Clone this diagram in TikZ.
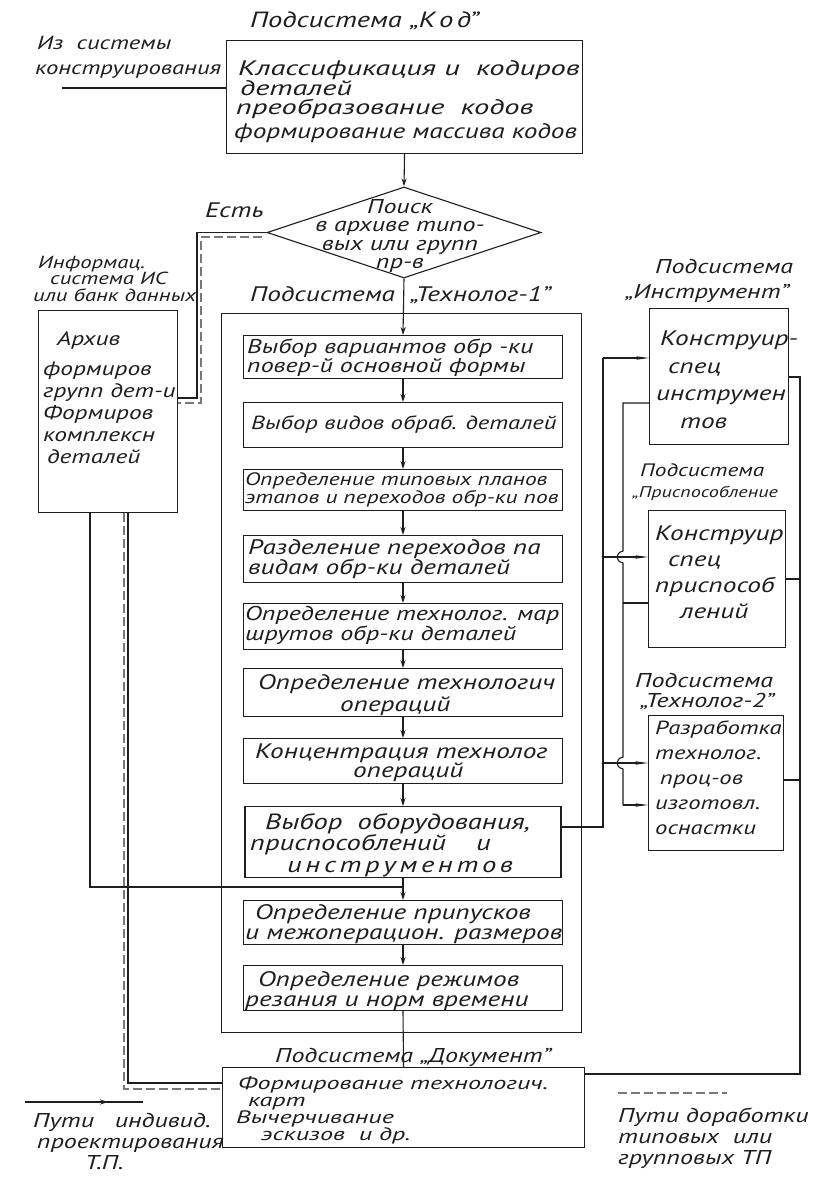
\documentclass[tikz,border=0pt]{standalone}
\usepackage{fontspec}
\newfontfamily\hand{PT Sans}[FakeStretch=1.3]
\newfontfamily\handw{PT Sans}[FakeStretch=1.45]
\usetikzlibrary{shapes.geometric,arrows.meta}
\definecolor{ink}{HTML}{1E1E1E}
\newcommand\hwf[2]{\hand\itshape\fontsize{#1}{#2}\selectfont}
\newcommand\hwfw[2]{\handw\itshape\fontsize{#1}{#2}\selectfont}
\begin{document}
\begin{tikzpicture}[x=1pt,y=-1pt,
  ln/.style={draw=ink,line width=1.1pt},
  dln/.style={draw=ink!60,line width=1.1pt,dash pattern=on 9pt off 4pt},
  arr/.style={ln,-{Stealth[length=8pt,width=5pt]}},
  sarr/.style={ln,-{Stealth[length=13pt,width=3.5pt]}},
  box/.style={draw=ink,line width=1.1pt,inner sep=0pt},
  tx/.style={inner sep=0pt,anchor=north west,align=left,text=ink,font=\hwf{21}{20}},
]
\useasboundingbox (0,0) rectangle (821,1187);
\fill[white] (0,0) rectangle (821,1187);

% ---------- boxes ----------
\node[box,anchor=north west,minimum width=356pt,minimum height=113pt] (kod) at (226,40) {};
\node[box,shape=diamond,minimum width=274pt,minimum height=91pt] (dia) at (404,232.5) {};
\node[box,anchor=north west,minimum width=139pt,minimum height=202pt] (arch) at (38,310) {};
\node[box,anchor=north west,minimum width=360pt,minimum height=719pt] (frame) at (221,313) {};
\node[box,anchor=north,minimum width=319pt,minimum height=43pt] (b1) at (403,335) {};
\node[box,anchor=north,minimum width=319pt,minimum height=45pt] (b2) at (403,402) {};
\node[box,anchor=north,minimum width=319pt,minimum height=41pt] (b3) at (403,469) {};
\node[box,anchor=north,minimum width=319pt,minimum height=47pt] (b4) at (403,535) {};
\node[box,anchor=north,minimum width=319pt,minimum height=46pt] (b5) at (403,603) {};
\node[box,anchor=north,minimum width=319pt,minimum height=48pt] (b6) at (403,668) {};
\node[box,anchor=north,minimum width=319pt,minimum height=45pt] (b7) at (403,738) {};
\node[box,anchor=north,minimum width=316pt,minimum height=71pt] (b8) at (403,806) {};
\node[box,anchor=north,minimum width=319pt,minimum height=44pt] (b9) at (403,900) {};
\node[box,anchor=north,minimum width=319pt,minimum height=45pt] (b10) at (403,965) {};
\node[box,anchor=north west,minimum width=362pt,minimum height=80pt] (doc) at (222,1067) {};
\node[box,anchor=north west,minimum width=139pt,minimum height=136pt] (ins) at (649,308) {};
\node[box,anchor=north west,minimum width=137pt,minimum height=137pt] (pr) at (648,510) {};
\node[box,anchor=north west,minimum width=135pt,minimum height=135pt] (t2) at (648,715) {};

% ---------- texts ----------
\node[tx,font=\hwf{22}{20}] (tkodT) at (250,12) {Подсистема\ „К\,о\,д”};
\node[tx,font=\hwf{19}{25}] (tfrom) at (35,36) {\hspace*{2pt}Из\ \ системы\\конструирования};
\node[tx,font=\hwf{21}{19}] (tkod) at (234,60) {{\handw\hspace*{4pt}Классификация и\ \ кодиров}\\{\handw\hspace*{6pt}деталей}\\{\handw\hspace*{2pt}преобразование\ \ кодов}\\[4pt]формирование массива кодов};
\node[inner sep=0pt,align=center,text=ink,font=\hwf{20}{18.3}] (tdia) at (400,236) {Поиск\\в архиве типо-\\вых или групп\\пр-в};
\node[tx] (test) at (205,203) {Есть};
\node[tx,font=\hwf{17.5}{16.5}] (tinfo) at (33,256) {\hspace*{5pt}Информац.\\\hspace*{17pt}система ИС\\или банк данных};
\node[tx,font=\hwf{19.5}{22}] (tarch) at (43,331) {\hspace*{14pt}Архив\\[8pt]формиров\\групп дет-и\\Формиров\\комплексн\\\hspace*{4pt}деталей};
\node[tx] (tT1a) at (250,286) {Подсистема};
\node[tx] (tT1b) at (410,286) {„Технолог-1”};
\node[tx,font=\hwf{20}{18}] (tb1) at (247,339) {Выбор вариантов обр -ки\\повер-й основной формы};
\node[tx,font=\hwf{19}{20}] (tb2) at (251,416) {Выбор видов обраб. деталей};
\node[tx,font=\hwf{18}{18}] (tb3) at (245,472) {Определение типовых планов\\этапов и переходов обр-ки пов};
\node[tx] (tb4) at (248,539) {Разделение переходов па\\видам обр-ки деталей};
\node[tx,font=\hwf{20}{20}] (tb5) at (245,606) {Определение технолог. мар\\шрутов обр-ки деталей};
\node[tx,font=\hwf{21}{22}] (tb6) at (258,674) {Определение технологич\\\hspace*{82pt}операций};
\node[tx,font=\hwf{21}{19}] (tb7) at (255,744) {Концентрация технолог\\\hspace*{98pt}операций};
\node[tx,font=\hwf{22}{21.5}] (tb8) at (265,813) {Выбор\ \ оборудования,\\\hspace*{-15pt}приспособлений\hspace{30pt}и\\\hspace*{22pt}и\,н\,с\,т\,р\,у\,м\,е\,н\,т\,о\,в};
\node[tx] (tb9) at (245,904) {\hspace*{10pt}Определение припусков\\и межоперацион. размеров};
\node[tx] (tb10) at (245,971) {\hspace*{13pt}Определение режимов\\резания и норм времени};
\node[tx,font=\hwf{20}{20}] (tdocT) at (275,1048) {Подсистема „Документ”};
\node[tx,font=\hwfw{18}{17}] (tdoc) at (236,1076) {\hspace*{2pt}Формирование технологич.\\\hspace*{12pt}карт\\Вычерчивание\\\hspace*{25pt}эскизов\ \ и др.};
\node[tx,font=\hwf{20}{25}] (tinsT) at (625,259) {\hspace*{30pt}Подсистема\\„Инструмент”};
\node[tx,font=\hwf{21}{27.5}] (tins) at (656,331) {\hspace*{4pt}Конструир-\\\hspace*{12pt}спец\\инструмен\\\hspace*{24pt}тов};
\node[tx,font=\hwf{18}{21}] (tprT) at (632,463) {\hspace*{8pt}Подсистема\\{\fontsize{15.5}{21}\selectfont„Приспособление}};
\node[tx,font=\hwf{21}{26}] (tpr) at (655,526) {Конструир\\\hspace*{13pt}спец\\приспособ\\\hspace*{25pt}лений};
\node[tx,font=\hwf{20}{20}] (tt2T) at (635,673) {Подсистема\\\hspace*{5pt}„Технолог-2”};
\node[tx,font=\hwf{19}{25}] (tt2) at (655,721) {Разработка\\технолог.\\\hspace*{5pt}проц-ов\\изготовл.\\оснастки};
\node[tx,font=\hwf{20}{21}] (tlegL) at (33,1113) {Пути\ \ \ индивид.\\\hspace*{4pt}проектирования\\\hspace*{52pt}Т.П.};
\node[tx,font=\hwf{20}{21}] (tlegR) at (618,1108) {Пути доработки\\типовых\ \ или\\групповых ТП};

% ---------- main flow ----------
\draw[arr] (kod.south) -- (dia.north);
\draw[arr] (dia.south) -- (b1.north);
\draw[arr] (b1.south) -- (b2.north);
\draw[arr] (b2.south) -- (b3.north);
\draw[arr] (b3.south) -- (b4.north);
\draw[arr] (b4.south) -- (b5.north);
\draw[arr] (b5.south) -- (b6.north);
\draw[arr] (b6.south) -- (b7.north);
\draw[arr] (b7.south) -- (b8.north);
\draw[arr] (b8.south) -- (b9.north);
\draw[arr] (b9.south) -- (b10.north);
\draw[ln] (b10.south) -- (doc.north);

% input from design system
\coordinate (inA) at (62,88);
\draw[ln] (inA) -- (inA -| kod.west);

% "Есть" path to archive
\coordinate (e1) at (197,232.5);
\coordinate (e2) at (197,398);
\draw[ln] (dia.west) -- (e1) -- (e2) -- (e2 -| arch.east);
\coordinate (e3) at (201,237);
\coordinate (e4) at (201,403);
\coordinate (e5) at (262,237);
\draw[dln] (e5) -- (e3) -- (e4) -- (e4 -| arch.east);

% archive -> b9 (solid)
\coordinate (a1) at (90,887);
\draw[ln] (arch.south -| a1) -- (a1) -- (a1 -| b9.north);

% archive -> document (double: solid + dashed)
\coordinate (d1) at (128,1083);
\draw[ln] (arch.south -| d1) -- (d1) -- (d1 -| doc.west);
\coordinate (d2) at (124,1089);
\draw[dln] (arch.south -| d2) -- (d2) -- (d2 -| doc.west);

% b8 -> right subsystems
\coordinate (r0) at (603,827);
\coordinate (r1) at (603,358);
\coordinate (r2) at (603,557);
\coordinate (r3) at (603,763);
\draw[ln] (b8.east |- r0) -- (r0) -- (r1);
\draw[sarr] (r1) -- (r1 -| ins.west);
\draw[sarr] (r2) -- (r2 -| pr.west);
\draw[sarr] (r3) -- (r3 -| t2.west);
\fill[ink] (r2) circle (1.6pt);
\fill[ink] (r3) circle (1.6pt);

% tools/fixtures -> Технолог-2
\coordinate (s1) at (623,403);
\coordinate (s2) at (623,551);
\coordinate (s3) at (623,563);
\coordinate (s4) at (623,603);
\coordinate (s5) at (623,757);
\coordinate (s6) at (623,769);
\coordinate (s7) at (623,805);
\coordinate (h1) at (615,553);
\coordinate (h2) at (615,561);
\coordinate (h3) at (615,759);
\coordinate (h4) at (615,767);
\draw[ln] (s1 -| ins.west) -- (s1) -- (s2) .. controls (h1) and (h2) .. (s3) -- (s5) .. controls (h3) and (h4) .. (s6) -- (s7);
\draw[sarr] (s7) -- (s7 -| t2.west);
\draw[ln] (s4 -| pr.west) -- (s4);

% return path on the right to the document box
\coordinate (q1) at (800,377);
\coordinate (q2) at (800,1074);
\coordinate (q3) at (800,579);
\coordinate (q4) at (800,780);
\draw[ln] (q1 -| ins.east) -- (q1) -- (q2) -- (q2 -| doc.east);
\draw[ln] (q3 -| pr.east) -- (q3);
\draw[ln] (q4 -| t2.east) -- (q4);
\coordinate (m1) at (800,405); \coordinate (m2) at (800,427);
\coordinate (m3) at (800,600); \coordinate (m4) at (800,622);
\coordinate (m5) at (800,855); \coordinate (m6) at (800,877);
\draw[ink,line width=2.6pt] (m1) -- (m2) (m3) -- (m4) (m5) -- (m6);

% legend
\coordinate (l1) at (25,1102);
\coordinate (lm) at (108,1102);
\coordinate (l2) at (143,1102);
\draw[ln] (l1) -- (l2);
\draw[arr] (l1) -- (lm);
\coordinate (k1) at (618,1093);
\coordinate (k2) at (727,1093);
\draw[dln] (k1) -- (k2);
\end{tikzpicture}
\end{document}
